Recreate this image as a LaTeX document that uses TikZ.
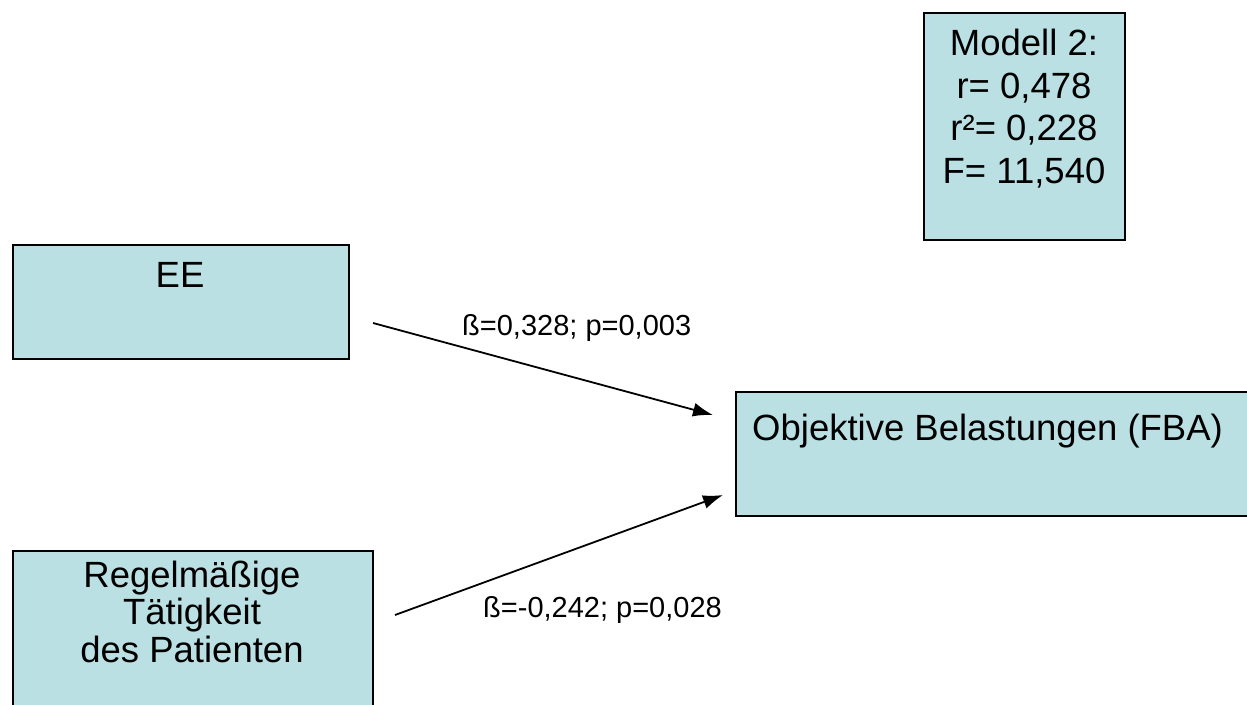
\documentclass[tikz,border=0pt]{standalone}
\usepackage{fontspec}
\setmainfont{Liberation Sans}
\usetikzlibrary{arrows.meta}
\definecolor{boxfill}{RGB}{187,224,227}
\tikzset{
  box/.style={draw=black, fill=boxfill, line width=1.8pt, rectangle, inner sep=0pt, anchor=north west},
  bigtext/.style={font=\fontsize{36.5}{42.5}\selectfont, inner sep=0pt, align=center},
  lbl/.style={font=\fontsize{29}{34}\selectfont, inner sep=0pt, anchor=base west},
  conn/.style={line width=1.8pt, -{Latex[length=20pt,width=14pt]}}
}
\begin{document}
\begin{tikzpicture}[x=1pt,y=-1pt]
\clip (0,0) rectangle (1247,704);
\fill[white] (0,0) rectangle (1247,704);
% boxes
\node[box, minimum width=201pt, minimum height=227pt] (modell) at (923,12) {};
\node[box, minimum width=336pt, minimum height=114pt] (ee) at (12,244) {};
\node[box, minimum width=530pt, minimum height=124pt] (obj) at (735,391) {};
\node[box, minimum width=360pt, minimum height=170pt] (reg) at (12,550) {};
% texts (base anchor = baseline of last line)
\node[bigtext, anchor=base] (modelltxt) at (1024,183) {Modell 2:\\r= 0,478\\r²= 0,228\\F= 11,540};
\node[bigtext, anchor=base] (eetxt) at (180,287) {EE};
\node[bigtext, anchor=base west] (objtxt) at (752,440) {Objektive Belastungen (FBA)};
\node[bigtext, anchor=base, font=\fontsize{36.5}{37.5}\selectfont] (regtxt) at (192,662) {Regelmäßige\\Tätigkeit\\des Patienten};
% connectors
\coordinate (s1) at (373,323);
\coordinate (e1) at (713,415);
\coordinate (s2) at (395,615);
\coordinate (e2) at (723,495);
\draw[conn] (s1) -- (e1);
\draw[conn] (s2) -- (e2);
\node[lbl] (l1) at (462,335) {ß=0,328; p=0,003};
\node[lbl] (l2) at (483,617) {ß=-0,242; p=0,028};
\end{tikzpicture}
\end{document}
